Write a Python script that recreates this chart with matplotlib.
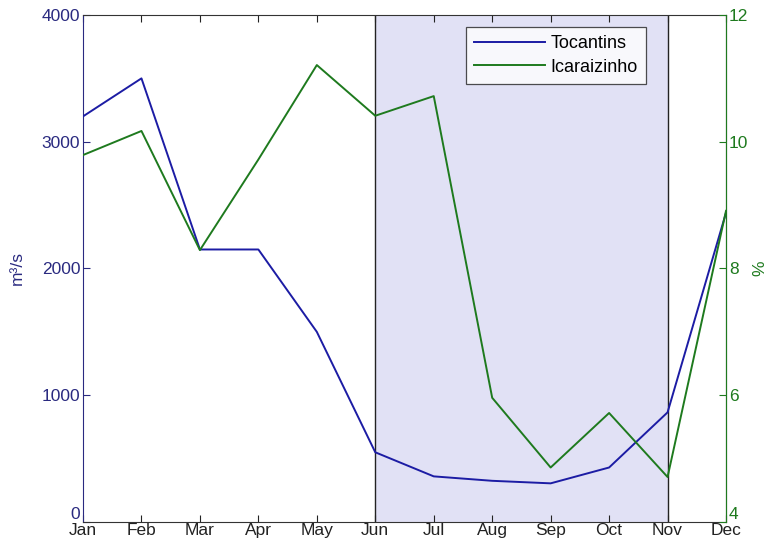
import numpy as np
import matplotlib.pyplot as plt

plt.rcParams["font.family"] = ["Liberation Sans", "DejaVu Sans"]

months = ["Jan", "Feb", "Mar", "Apr", "May", "Jun", "Jul", "Aug", "Sep", "Oct", "Nov", "Dec"]
tocantins = [3200, 3500, 2150, 2150, 1500, 550, 360, 325, 305, 430, 865, 2440]
icaraizinho = [9.79, 10.17, 8.29, 9.72, 11.21, 10.41, 10.72, 5.96, 4.86, 5.72, 4.71, 8.91]
dry_start, dry_end = 6, 11  # Jun .. Nov

left_yticks = [0, 1000, 2000, 3000, 4000]
right_yticks = [4, 6, 8, 10, 12]

BLUE = "#1c1ca4"
GREEN = "#1e7a1e"
NAVY = "#2a2a80"
FS = 12.5

x = np.arange(1, 13)

fig = plt.figure(figsize=(7.75, 5.47), dpi=100)
ax = fig.add_axes([0.1071, 0.0457, 0.8297, 0.9269])
ax2 = ax.twinx()

ax.axvspan(dry_start, dry_end, color="#e1e1f5", zorder=0, lw=0)
ax.axvline(dry_start, color="#222222", lw=1.0, zorder=1)
ax.axvline(dry_end, color="#222222", lw=1.0, zorder=1)

l1, = ax.plot(x, tocantins, color=BLUE, lw=1.4, label="Tocantins", zorder=3)
l2, = ax2.plot(x, icaraizinho, color=GREEN, lw=1.4, label="Icaraizinho", zorder=3)

ax.set_xlim(1, 12)
ax.set_ylim(0, 4000)
ax2.set_ylim(4, 12)
ax.set_xticks(x)
ax.set_xticklabels(months)
ax.set_yticks(left_yticks)
ax2.set_yticks(right_yticks)

ax.tick_params(axis="x", direction="in", top=True, length=5, pad=1, labelsize=FS, colors="#222222")
ax.tick_params(axis="y", direction="in", length=5, pad=2, labelsize=FS, colors=NAVY)
ax2.tick_params(axis="y", direction="in", length=5, pad=2, labelsize=FS, colors=GREEN)

# lift the bottom y labels so they sit just above the month names
ax.get_yticklabels()[0].set_verticalalignment("bottom")
ax2.get_yticklabels()[0].set_verticalalignment("bottom")

for s in ["top", "bottom"]:
    ax.spines[s].set_color("#333333")
ax.spines["left"].set_color(NAVY)
ax2.spines["right"].set_color(GREEN)
ax2.spines["left"].set_visible(False)
ax2.spines["top"].set_visible(False)
ax2.spines["bottom"].set_visible(False)

ax.set_ylabel("m³/s", color=NAVY, fontsize=FS, labelpad=12)
ax2.set_ylabel("%", color=GREEN, fontsize=FS, labelpad=3)

leg = ax2.legend(handles=[l1, l2], loc="upper left", bbox_to_anchor=(0.596, 0.976),
                 borderaxespad=0, fontsize=13, frameon=True, fancybox=False,
                 edgecolor="#222222", handlelength=3.9, borderpad=0.45,
                 labelspacing=0.35, handletextpad=0.3)
leg.get_frame().set_linewidth(0.9)

fig.savefig("out.png", dpi=100)
